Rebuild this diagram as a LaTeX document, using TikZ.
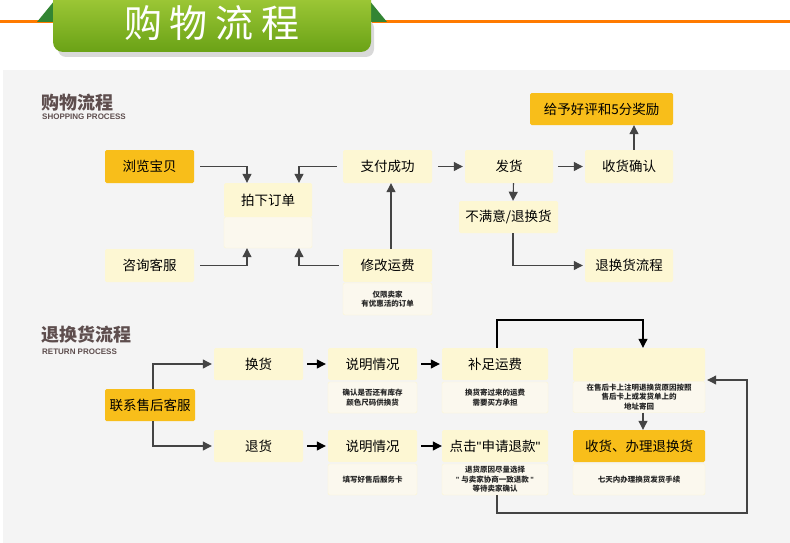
\documentclass[tikz,border=0pt]{standalone}
\usepackage{fontspec}
\setmainfont{Noto Sans CJK SC}[Ligatures=NoCommon]
\newfontfamily\latinsans{Liberation Sans}
\newcommand{\sq}{{\latinsans\char34}}
\usetikzlibrary{arrows.meta,shadows}
\definecolor{lightY}{HTML}{FDF7D3}
\definecolor{darkY}{HTML}{F8BE1A}
\definecolor{noteB}{HTML}{FBF8EE}
\definecolor{titleC}{HTML}{5E4E4E}
\definecolor{lineC}{HTML}{444444}
\definecolor{orangeL}{HTML}{FF7A00}
\tikzset{
  box/.style={fill=lightY, rounded corners=1.5pt, inner sep=0pt, font=\fontsize{13.5}{15}\selectfont, text=black},
  hot/.style={box, fill=darkY},
  note/.style={fill=noteB, draw=lightY, rounded corners=1.5pt, inner sep=0pt, align=center, font=\fontsize{7.5}{9.5}\selectfont\bfseries, text=black!85},
  arr/.style={draw=lineC, line width=1.1pt, -{Triangle[length=9pt,width=9pt]}},
  arrk/.style={draw=black, line width=1.1pt, -{Triangle[length=9pt,width=9pt]}},
}
\begin{document}
\begin{tikzpicture}[x=1pt,y=-1pt]
\useasboundingbox (0,0) rectangle (790,543);
\fill[white] (0,0) rectangle (790,543);
\fill[gray!9] (3,70) rectangle (790,543);
% banner
\draw[orangeL, line width=3pt] (0,22) -- (790,22);
\fill[green!40!black!80] (37,22) -- (55,0) -- (55,22) -- cycle;
\fill[green!40!black!80] (387,22) -- (369,0) -- (369,22) -- cycle;
\fill[black!15, rounded corners=8pt] (58,20) rectangle (374,57);
\shade[top color={rgb,255:red,166;green,206;blue,60}, bottom color={rgb,255:red,106;green,162;blue,22}, rounded corners=10pt]
  (53,-12) rectangle (371,52);
\node[text=white, font=\fontsize{38}{40}\selectfont] (bt) at (212,23) {购\hspace{8pt}物\hspace{8pt}流\hspace{8pt}程};
% section 1 title
\node[anchor=west, text=titleC, font=\fontsize{18}{20}\selectfont\bfseries, inner sep=0pt] (t1) at (41,103) {购物流程};
\node[anchor=west, text=titleC, font=\latinsans\fontsize{8}{9}\selectfont\bfseries, inner sep=0pt] (t1e) at (42,117) {SHOPPING PROCESS};
% section 1 nodes
\node[hot, minimum width=89, minimum height=33] (browse) at (149.5,166.5) {浏览宝贝};
\node[box, minimum width=88, minimum height=34] (order) at (268,200) {拍下订单};
\node[note, minimum width=88, minimum height=31] (orderN) at (268,232.5) {};
\node[box, minimum width=89, minimum height=33] (pay) at (387.5,166.5) {支付成功};
\node[box, minimum width=89, minimum height=33] (ask) at (149.5,265.5) {咨询客服};
\node[box, minimum width=89, minimum height=33] (fee) at (387.5,265.5) {修改运费};
\node[note, minimum width=89, minimum height=32] (feeN) at (387.5,299) {仅限卖家\\有优惠活的订单};
\node[box, minimum width=88, minimum height=33] (ship) at (509,166.5) {发货};
\node[box, minimum width=88, minimum height=33] (recv) at (629,166.5) {收货确认};
\node[hot, minimum width=143, minimum height=32] (praise) at (601.5,109) {给予好评和5分奖励};
\node[box, minimum width=99, minimum height=32] (unhappy) at (508.5,217) {不满意/退换货};
\node[box, minimum width=88, minimum height=33] (retflow) at (629,265.5) {退换货流程};
% section 1 arrows
\draw[arr] (browse.east) ++(6,0) -| ([xshift=-21]order.north);
\draw[arr] (pay.west) ++(-6,0) -| ([xshift=31]order.north);
\draw[arr] (ask.east) ++(6,0) -| ([xshift=-21]orderN.south);
\draw[arr] (fee.west) ++(-4,0) -| ([xshift=31]orderN.south);
\draw[arr] (fee.north) ++(3.5,0) -- ([xshift=3.5]pay.south);
\draw[arr] ([xshift=6]pay.east) -- ([xshift=-2]ship.west);
\draw[arr] ([xshift=5]ship.east) -- ([xshift=-2]recv.west);
\draw[arr] ([xshift=5]recv.north) -- ([xshift=32.5]praise.south);
\draw[arr] ([xshift=4.5]ship.south) -- ([xshift=4.5]unhappy.north);
\draw[arr] ([xshift=4.5]unhappy.south) |- ([xshift=-2]retflow.west);
% section 2 title
\node[anchor=west, text=titleC, font=\fontsize{18}{20}\selectfont\bfseries, inner sep=0pt] (t2) at (41,335) {退换货流程};
\node[anchor=west, text=titleC, font=\latinsans\fontsize{8}{9}\selectfont\bfseries, inner sep=0pt] (t2e) at (42,352) {RETURN PROCESS};
% section 2 nodes
\node[hot, minimum width=90, minimum height=32] (cs) at (150,405) {联系售后客服};
\node[box, minimum width=89, minimum height=32] (exch) at (258.5,364) {换货};
\node[box, minimum width=89, minimum height=32] (refund) at (258.5,446) {退货};
\node[box, minimum width=89, minimum height=32] (exp1) at (372.5,364) {说明情况};
\node[note, minimum width=89, minimum height=31] (exp1N) at (372.5,397.5) {确认是否还有库存\\颜色尺码供换货};
\node[box, minimum width=89, minimum height=32] (exp2) at (372.5,446) {说明情况};
\node[note, minimum width=89, minimum height=31] (exp2N) at (372.5,479.5) {填写好售后服务卡};
\node[box, minimum width=106, minimum height=32] (sup) at (495,364) {补足运费};
\node[note, minimum width=106, minimum height=31] (supN) at (495,397.5) {换货寄过来的运费\\需要买方承担};
\node[box, minimum width=106, minimum height=32] (click) at (495,446) {点击\sq 申请退款\sq};
\node[note, minimum width=106, minimum height=31] (clickN) at (495,479.5) {退货原因尽量选择\\\sq\ 与卖家协商一致退款 \sq\\等待卖家确认};
\node[box, minimum width=132, minimum height=33] (mailH) at (639,364.5) {};
\node[note, minimum width=132, minimum height=31] (mail) at (639,397) {在售后卡上注明退换货原因按照\\售后卡上或发货单上的\\地址寄回};
\node[hot, minimum width=132, minimum height=32] (done) at (639,446) {收货、办理退换货};
\node[note, minimum width=132, minimum height=31] (doneN) at (639,479.5) {七天内办理换货发货手续};
% section 2 arrows
\draw[arr] ([xshift=3]cs.north) |- ([xshift=-2]exch.west);
\draw[arr] ([xshift=3]cs.south) |- ([xshift=-2]refund.west);
\draw[arrk] ([xshift=4]exch.east) -- ([xshift=-2]exp1.west);
\draw[arrk] ([xshift=4]refund.east) -- ([xshift=-2]exp2.west);
\draw[arrk] ([xshift=4]exp1.east) -- ([xshift=-2]sup.west);
\draw[arrk] ([xshift=4]exp2.east) -- ([xshift=0]click.west);
\coordinate (c1) at (497,320);
\coordinate (c2) at (643,320);
\draw[arrk] ([xshift=2]sup.north) -- (c1) -- (c2) -- ([xshift=4]mailH.north);
\draw[arr] ([xshift=4]mail.south) -- ([xshift=4]done.north);
\coordinate (c3) at (497,513);
\coordinate (c4) at (747,513);
\coordinate (c5) at (747,380);
\draw[arr] ([xshift=2]clickN.south) -- (c3) -- (c4) -- (c5) -- ([xshift=2,yshift=-15.5]mailH.east);
\end{tikzpicture}
\end{document}
